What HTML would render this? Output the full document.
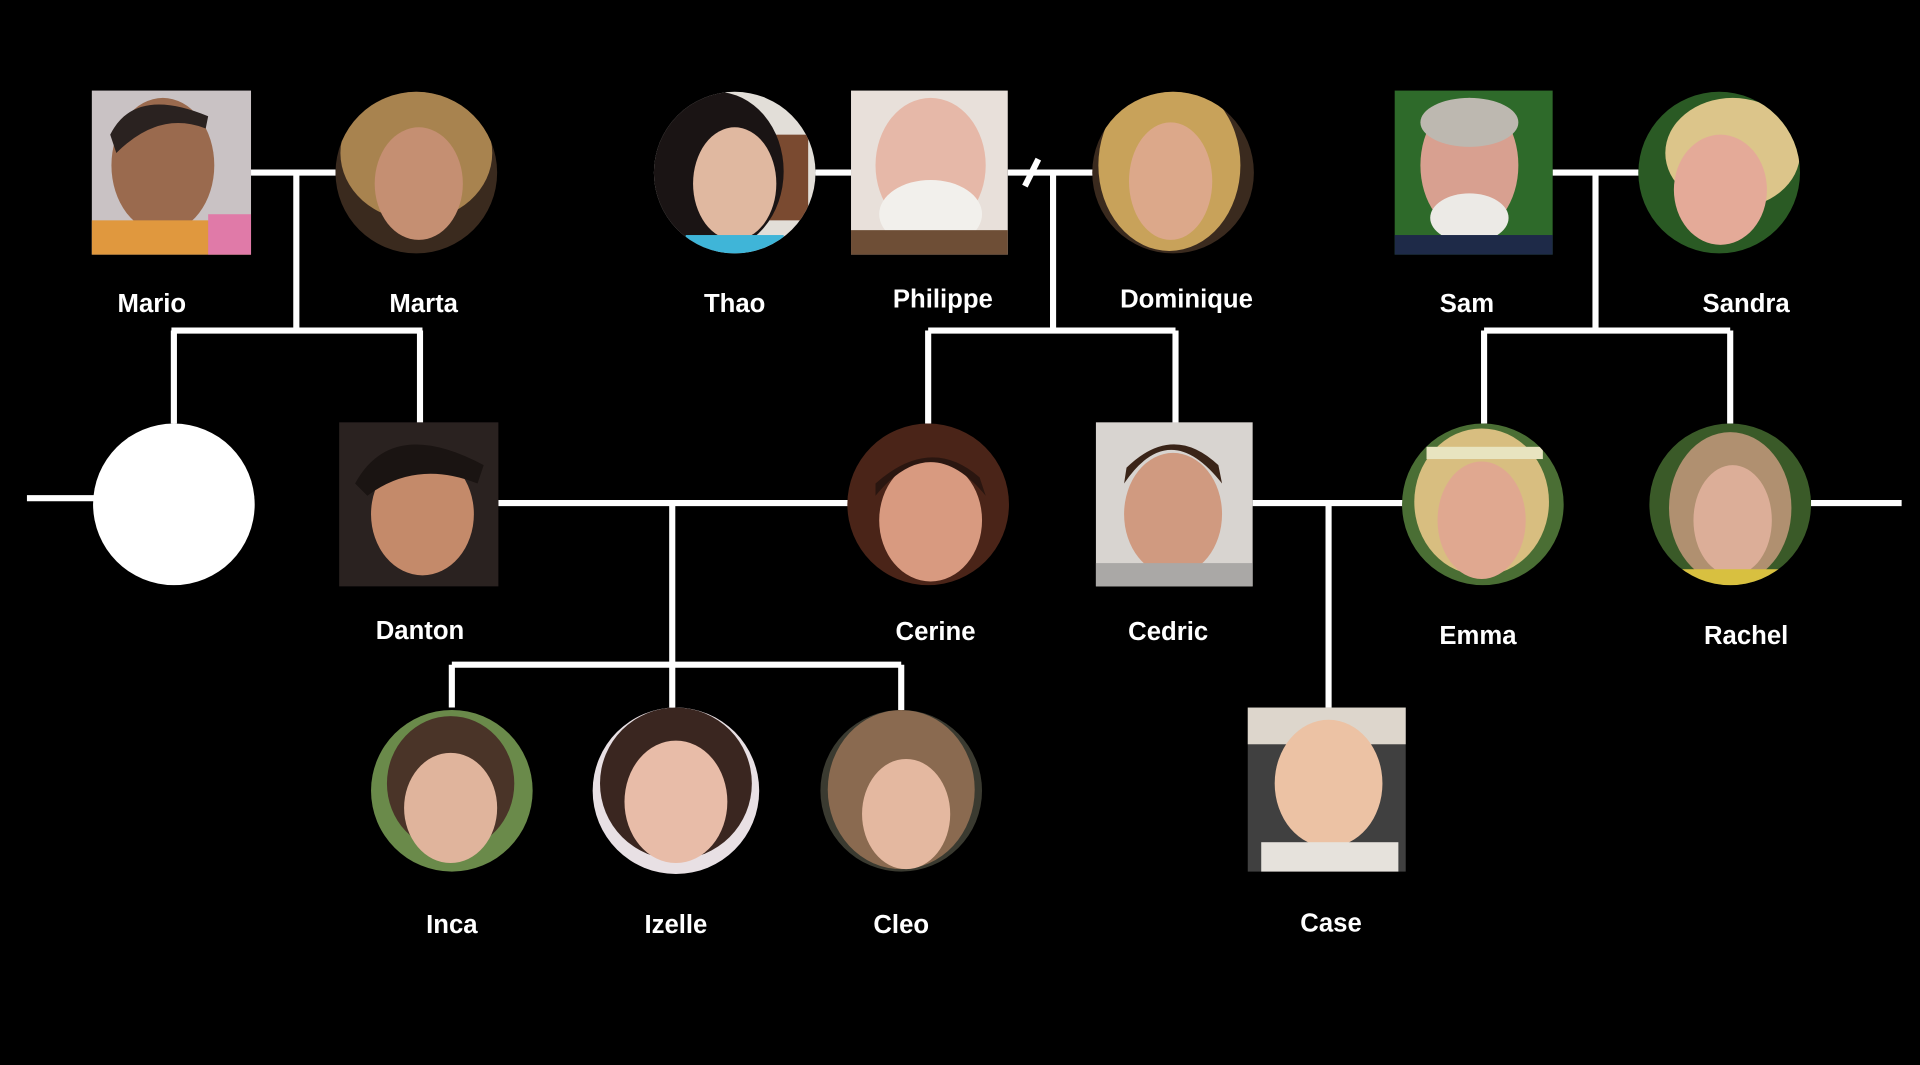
<!DOCTYPE html>
<html><head><meta charset="utf-8"><style>
html,body{margin:0;padding:0;background:#000;width:1920px;height:1065px;overflow:hidden}
svg{display:block}
text{font-family:"Liberation Sans",sans-serif;font-weight:bold;font-size:21px;fill:#fff;text-anchor:middle}
</style></head><body>
<svg width="1920" height="1065" viewBox="0 0 1568 870" preserveAspectRatio="none">
<defs>
<clipPath id="cMarta"><circle cx="340" cy="141" r="66"/></clipPath>
<clipPath id="cThao"><circle cx="600" cy="141" r="66"/></clipPath>
<clipPath id="cDom"><circle cx="958" cy="141" r="66"/></clipPath>
<clipPath id="cSandra"><circle cx="1404" cy="141" r="66"/></clipPath>
<clipPath id="cCerine"><circle cx="758" cy="412" r="66"/></clipPath>
<clipPath id="cEmma"><circle cx="1211" cy="412" r="66"/></clipPath>
<clipPath id="cRachel"><circle cx="1413" cy="412" r="66"/></clipPath>
<clipPath id="cInca"><circle cx="369" cy="646" r="66"/></clipPath>
<clipPath id="cIzelle"><circle cx="552" cy="646" r="68"/></clipPath>
<clipPath id="cCleo"><circle cx="736" cy="646" r="66"/></clipPath>
</defs>
<rect width="1568" height="870" fill="#000"/>
<g stroke="#fff" stroke-width="5" fill="none">
<path d="M205 141H274M242 141V270M140 270H345M142 270V346M343 270V346"/>
<path d="M22 407H78"/>
<path d="M407 411H693M549 411V543M369 543H736M369 543V578M549 543V578M736 543V580"/>
<path d="M666 141H695M823 141H893M860 141V270M758 270H960M758 270V346M960 270V346"/>
<path d="M837 152L848 130"/>
<path d="M1023 411H1146M1085 411V578"/>
<path d="M1268 141H1338M1303 141V270M1212 270H1413M1212 270V346M1413 270V346"/>
<path d="M1479 411H1553"/>
</g>
<circle cx="142" cy="412" r="66" fill="#fff"/>

<!-- Mario -->
<g><rect x="75" y="74" width="130" height="134" fill="#c9c2c4"/>
<ellipse cx="133" cy="135" rx="42" ry="55" fill="#9a6a4e"/>
<path d="M90 110Q110 70 170 95L168 105Q130 90 95 125Z" fill="#2a2220"/>
<rect x="75" y="180" width="130" height="28" fill="#e0983e"/><rect x="170" y="175" width="35" height="33" fill="#e07aa8"/></g>
<!-- Marta -->
<g clip-path="url(#cMarta)"><rect x="270" y="70" width="140" height="140" fill="#3a2a1e"/>
<ellipse cx="340" cy="125" rx="62" ry="55" fill="#a8834f"/>
<ellipse cx="342" cy="150" rx="36" ry="46" fill="#c58f72"/></g>
<!-- Thao -->
<g clip-path="url(#cThao)"><rect x="530" y="70" width="140" height="140" fill="#e2ded8"/>
<rect x="620" y="110" width="40" height="70" fill="#7a4a30"/>
<ellipse cx="585" cy="140" rx="55" ry="65" fill="#1a1414"/>
<ellipse cx="600" cy="150" rx="34" ry="46" fill="#e0b8a0"/>
<rect x="560" y="192" width="80" height="20" fill="#3fb5d8"/></g>
<!-- Philippe -->
<g><rect x="695" y="74" width="128" height="134" fill="#e8e0da"/>
<ellipse cx="760" cy="135" rx="45" ry="55" fill="#e6b8a8"/>
<ellipse cx="760" cy="175" rx="42" ry="28" fill="#f2f0ec"/>
<rect x="695" y="188" width="128" height="20" fill="#6e4e36"/></g>
<!-- Dominique -->
<g clip-path="url(#cDom)"><rect x="890" y="70" width="140" height="140" fill="#3a2a1e"/>
<ellipse cx="955" cy="135" rx="58" ry="70" fill="#c8a25a"/>
<ellipse cx="956" cy="148" rx="34" ry="48" fill="#dca88a"/></g>
<!-- Sam -->
<g><rect x="1139" y="74" width="129" height="134" fill="#2e6a2a"/>
<ellipse cx="1200" cy="135" rx="40" ry="55" fill="#d8a090"/>
<ellipse cx="1200" cy="100" rx="40" ry="20" fill="#bdb8b0"/>
<ellipse cx="1200" cy="178" rx="32" ry="20" fill="#eceae6"/>
<rect x="1139" y="192" width="129" height="16" fill="#1e2a48"/></g>
<!-- Sandra -->
<g clip-path="url(#cSandra)"><rect x="1334" y="70" width="140" height="140" fill="#2a5a24"/>
<ellipse cx="1415" cy="125" rx="55" ry="45" fill="#dcc58a"/>
<ellipse cx="1405" cy="155" rx="38" ry="45" fill="#e4aa98"/></g>

<!-- Danton -->
<g><rect x="277" y="345" width="130" height="134" fill="#2a2220"/>
<ellipse cx="345" cy="420" rx="42" ry="50" fill="#c48a6a"/>
<path d="M290 395Q320 340 395 380L390 395Q340 375 300 405Z" fill="#1a1412"/></g>
<!-- Cerine -->
<g clip-path="url(#cCerine)"><rect x="690" y="340" width="140" height="140" fill="#4a2418"/>
<ellipse cx="760" cy="425" rx="42" ry="50" fill="#d89a80"/>
<path d="M715 405Q760 350 805 405L800 390Q760 355 715 395Z" fill="#2a1610"/></g>
<!-- Cedric -->
<g><rect x="895" y="345" width="128" height="134" fill="#d8d4d0"/>
<ellipse cx="958" cy="420" rx="40" ry="50" fill="#d09a80"/>
<path d="M918 395Q955 340 998 395L995 380Q958 345 920 382Z" fill="#3a2418"/>
<rect x="895" y="460" width="128" height="19" fill="#aaa8a6"/></g>
<!-- Emma -->
<g clip-path="url(#cEmma)"><rect x="1142" y="340" width="140" height="140" fill="#4a6e34"/>
<ellipse cx="1210" cy="410" rx="55" ry="60" fill="#d8be80"/>
<ellipse cx="1210" cy="425" rx="36" ry="48" fill="#e0a890"/>
<rect x="1165" y="365" width="95" height="10" fill="#e8e4c0"/></g>
<!-- Rachel -->
<g clip-path="url(#cRachel)"><rect x="1345" y="340" width="140" height="140" fill="#3a5a28"/>
<ellipse cx="1413" cy="415" rx="50" ry="62" fill="#b09070"/>
<ellipse cx="1415" cy="425" rx="32" ry="45" fill="#dcae98"/>
<rect x="1370" y="465" width="90" height="20" fill="#d8c040"/></g>

<!-- Inca -->
<g clip-path="url(#cInca)"><rect x="300" y="575" width="140" height="140" fill="#6a8a4a"/>
<ellipse cx="368" cy="640" rx="52" ry="55" fill="#4a3428"/>
<ellipse cx="368" cy="660" rx="38" ry="45" fill="#e0b49c"/></g>
<!-- Izelle -->
<g clip-path="url(#cIzelle)"><rect x="480" y="575" width="145" height="145" fill="#e8e0e4"/>
<ellipse cx="552" cy="640" rx="62" ry="62" fill="#3a2620"/>
<ellipse cx="552" cy="655" rx="42" ry="50" fill="#e8bca8"/></g>
<!-- Cleo -->
<g clip-path="url(#cCleo)"><rect x="665" y="575" width="140" height="140" fill="#3a3a30"/>
<ellipse cx="736" cy="645" rx="60" ry="65" fill="#8a6a50"/>
<ellipse cx="740" cy="665" rx="36" ry="45" fill="#e4b8a0"/></g>
<!-- Case -->
<g><rect x="1019" y="578" width="129" height="134" fill="#404040"/>
<rect x="1019" y="578" width="129" height="30" fill="#ddd6cc"/>
<ellipse cx="1085" cy="640" rx="44" ry="52" fill="#ecc2a4"/>
<rect x="1030" y="688" width="112" height="24" fill="#e6e2dc"/></g>

<text x="124" y="255">Mario</text>
<text x="346" y="255">Marta</text>
<text x="600" y="255">Thao</text>
<text x="770" y="251">Philippe</text>
<text x="969" y="251">Dominique</text>
<text x="1198" y="255">Sam</text>
<text x="1426" y="255">Sandra</text>
<text x="343" y="522">Danton</text>
<text x="764" y="523">Cerine</text>
<text x="954" y="523">Cedric</text>
<text x="1207" y="526">Emma</text>
<text x="1426" y="526">Rachel</text>
<text x="369" y="762">Inca</text>
<text x="552" y="762">Izelle</text>
<text x="736" y="762">Cleo</text>
<text x="1087" y="761">Case</text>
</svg>
</body></html>
